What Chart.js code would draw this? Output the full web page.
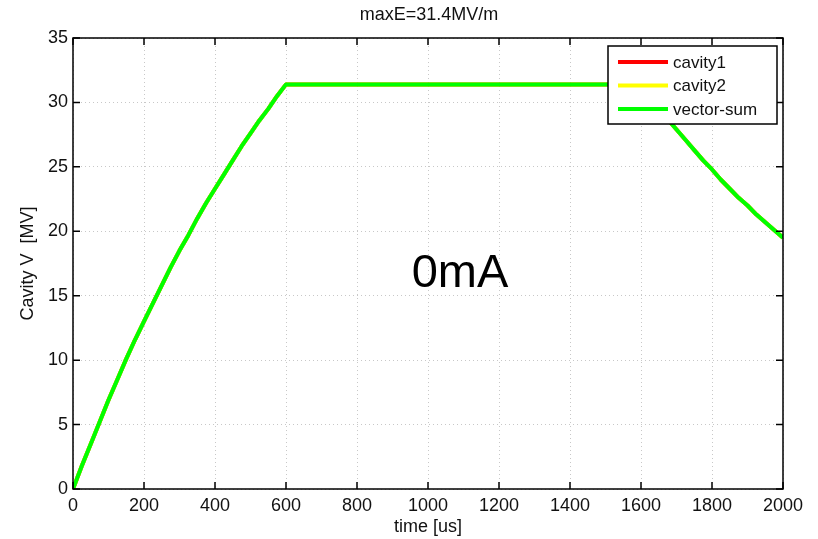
<!DOCTYPE html>
<html>
<head>
<meta charset="utf-8">
<script src="https://cdn.jsdelivr.net/npm/chart.js@4/dist/chart.umd.min.js"></script>
<style>
  html, body { margin: 0; padding: 0; background: #fff; }
  #wrap { width: 818px; height: 539px; }
</style>
</head>
<body>
<div id="wrap"><canvas id="cavityChart" width="818" height="539"></canvas></div>
<script>
// values (time in us, voltage in MV)
const timeUs    = [0, 25, 50, 75, 100, 125, 150, 175, 200, 225, 250, 275, 300, 325, 350, 375,
                   400, 425, 450, 475, 500, 525, 550, 575, 600,
                   1600, 1625, 1650, 1675, 1700, 1725, 1750, 1775, 1800, 1825, 1850, 1875,
                   1900, 1925, 1950, 1975, 2000];
const cavity1   = [0, 1.8, 3.5, 5.2, 6.9, 8.5, 10.1, 11.6, 13.0, 14.4, 15.8, 17.2, 18.5, 19.7, 21.0, 22.2,
                   23.3, 24.4, 25.5, 26.6, 27.6, 28.6, 29.5, 30.5, 31.4,
                   31.4, 30.5, 29.6, 28.7, 27.9, 27.1, 26.3, 25.5, 24.8, 24.0, 23.3, 22.6,
                   22.0, 21.3, 20.7, 20.1, 19.5];
const cavity2   = [0, 1.8, 3.5, 5.2, 6.9, 8.5, 10.1, 11.6, 13.0, 14.4, 15.8, 17.2, 18.5, 19.7, 21.0, 22.2,
                   23.3, 24.4, 25.5, 26.6, 27.6, 28.6, 29.5, 30.5, 31.4,
                   31.4, 30.5, 29.6, 28.7, 27.9, 27.1, 26.3, 25.5, 24.8, 24.0, 23.3, 22.6,
                   22.0, 21.3, 20.7, 20.1, 19.5];
const vectorSum = [0, 1.8, 3.5, 5.2, 6.9, 8.5, 10.1, 11.6, 13.0, 14.4, 15.8, 17.2, 18.5, 19.7, 21.0, 22.2,
                   23.3, 24.4, 25.5, 26.6, 27.6, 28.6, 29.5, 30.5, 31.4,
                   31.4, 30.5, 29.6, 28.7, 27.9, 27.1, 26.3, 25.5, 24.8, 24.0, 23.3, 22.6,
                   22.0, 21.3, 20.7, 20.1, 19.5];

const seriesNames  = ['cavity1', 'cavity2', 'vector-sum'];
const seriesColors = ['#ff0000', '#ffff00', '#00ff00'];
const xTicks = [0, 200, 400, 600, 800, 1000, 1200, 1400, 1600, 1800, 2000];
const yTicks = [0, 5, 10, 15, 20, 25, 30, 35];

const FONT = '"Liberation Sans", Arial, sans-serif';

const toPoints = vals => vals.map((v, i) => ({ x: timeUs[i], y: v }));

// frame, inward ticks, legend box, title and the current label
const matlabLook = {
  id: 'matlabLook',
  afterDraw(chart) {
    const { ctx, chartArea: a, scales } = chart;
    ctx.save();

    // axes box
    ctx.strokeStyle = '#000';
    ctx.lineWidth = 1.5;
    ctx.strokeRect(a.left, a.top, a.right - a.left, a.bottom - a.top);

    // inward ticks on all four sides
    const tl = 7;
    ctx.beginPath();
    xTicks.forEach(t => {
      const px = scales.x.getPixelForValue(t);
      ctx.moveTo(px, a.bottom); ctx.lineTo(px, a.bottom - tl);
      ctx.moveTo(px, a.top); ctx.lineTo(px, a.top + tl);
    });
    yTicks.forEach(t => {
      const py = scales.y.getPixelForValue(t);
      ctx.moveTo(a.left, py); ctx.lineTo(a.left + tl, py);
      ctx.moveTo(a.right, py); ctx.lineTo(a.right - tl, py);
    });
    ctx.stroke();

    // title
    ctx.fillStyle = '#111';
    ctx.font = '18px ' + FONT;
    ctx.textAlign = 'center';
    ctx.textBaseline = 'middle';
    ctx.fillText('maxE=31.4MV/m', (a.left + a.right) / 2 + 1, 15);

    // beam current label
    ctx.fillStyle = '#000';
    ctx.font = '47px ' + FONT;
    ctx.fillText('0mA', scales.x.getPixelForValue(1090), scales.y.getPixelForValue(16.7));

    // legend
    const bx = a.right - 175, by = a.top + 8, bw = 169, bh = 78;
    ctx.fillStyle = '#fff';
    ctx.fillRect(bx, by, bw, bh);
    ctx.strokeStyle = '#000';
    ctx.lineWidth = 1.5;
    ctx.strokeRect(bx, by, bw, bh);
    ctx.font = '17px ' + FONT;
    ctx.textAlign = 'left';
    seriesNames.forEach((name, i) => {
      const ly = by + 16 + i * 23.5;
      ctx.strokeStyle = seriesColors[i];
      ctx.lineWidth = 4;
      ctx.beginPath();
      ctx.moveTo(bx + 10, ly); ctx.lineTo(bx + 60, ly);
      ctx.stroke();
      ctx.fillStyle = '#111';
      ctx.fillText(name, bx + 65, ly + 1);
    });

    ctx.restore();
  }
};

const seriesData = [cavity1, cavity2, vectorSum];

new Chart(document.getElementById('cavityChart'), {
  type: 'line',
  data: {
    datasets: seriesNames.map((name, i) => ({
      label: name,
      data: toPoints(seriesData[i]),
      borderColor: seriesColors[i],
      borderWidth: 4,
      borderJoinStyle: 'round',
      pointRadius: 0,
      tension: 0,
      fill: false,
      order: 2 - i
    }))
  },
  options: {
    responsive: false,
    animation: false,
    layout: { padding: { left: 0, right: 35, top: 38, bottom: 0 } },
    plugins: {
      legend: { display: false },
      title: { display: false },
      tooltip: { enabled: false }
    },
    scales: {
      x: {
        type: 'linear',
        min: 0,
        max: 2000,
        afterFit: s => { s.height = 50; },
        afterBuildTicks: s => { s.ticks = xTicks.map(v => ({ value: v })); },
        ticks: { padding: 6, color: '#111', font: { family: FONT, size: 18 }, maxRotation: 0,
                 callback: v => String(v) },
        grid: { color: '#c8c8c8', lineWidth: 1, drawTicks: false, tickLength: 0 },
        border: { display: false, dash: [1, 3] },
        title: { display: true, text: 'time [us]', color: '#111', font: { family: FONT, size: 18 },
                 padding: { top: 0, bottom: 1 } }
      },
      y: {
        min: 0,
        max: 35,
        afterFit: s => { s.width = 73; },
        afterBuildTicks: s => { s.ticks = yTicks.map(v => ({ value: v })); },
        ticks: { padding: 5, color: '#111', font: { family: FONT, size: 18 },
                 callback: v => String(v) },
        grid: { color: '#c8c8c8', lineWidth: 1, drawTicks: false, tickLength: 0 },
        border: { display: false, dash: [1, 3] },
        title: { display: true, text: 'Cavity V  [MV]', color: '#111', font: { family: FONT, size: 18 },
                 padding: { top: 17, bottom: 0 } }
      }
    }
  },
  plugins: [matlabLook]
});
</script>
</body>
</html>
